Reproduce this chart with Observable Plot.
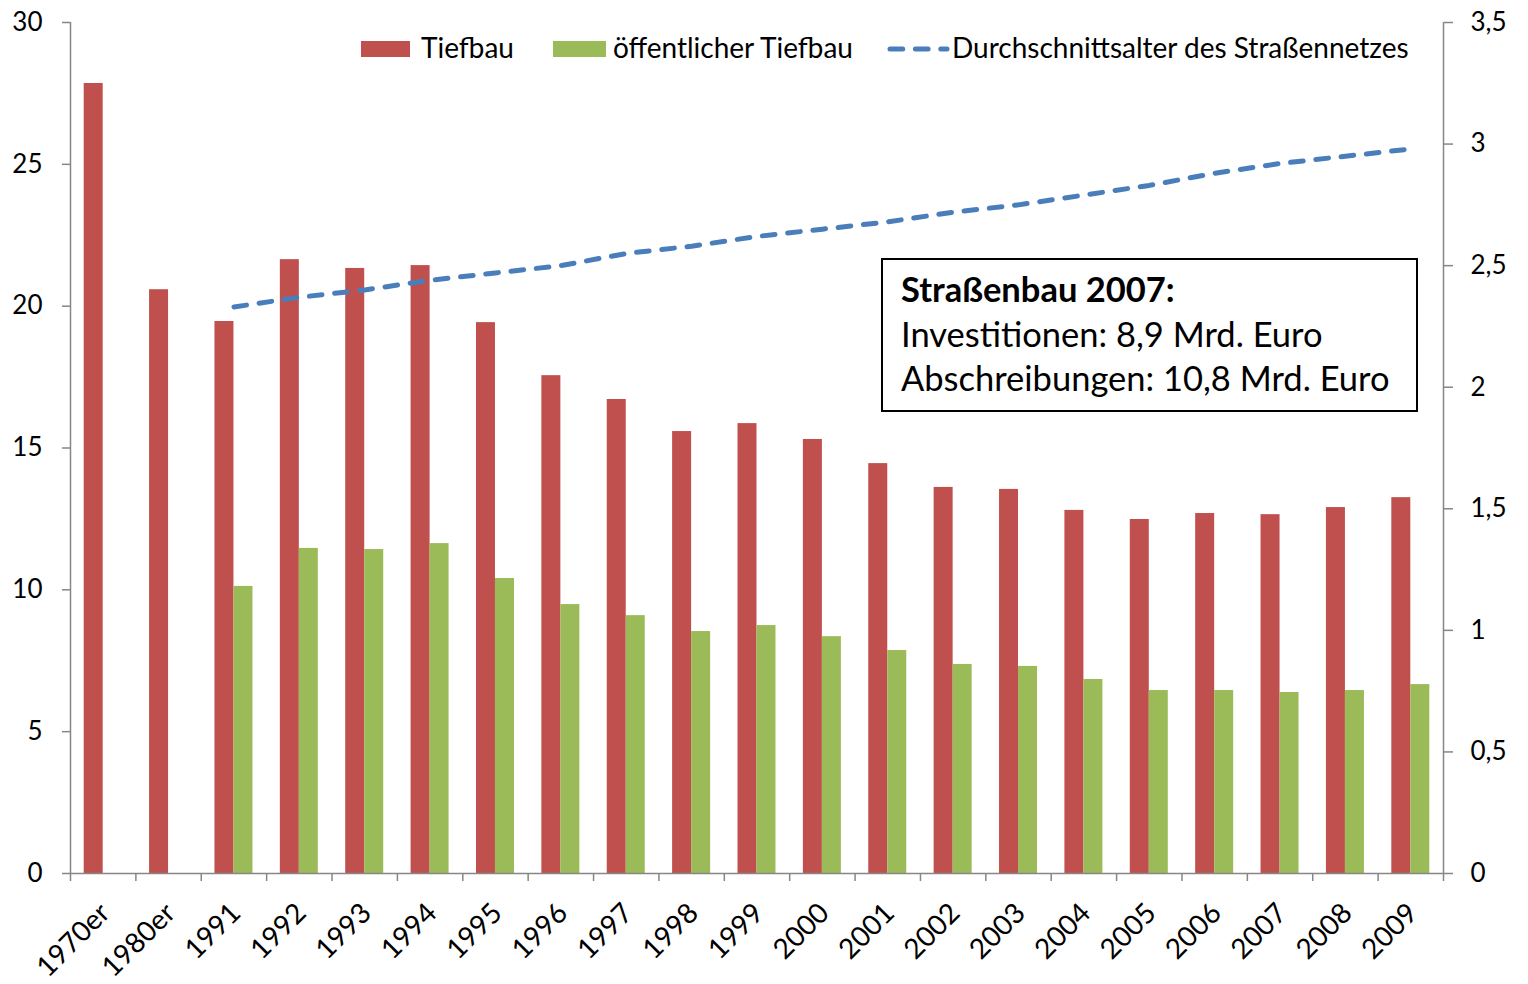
<!DOCTYPE html>
<html>
<head>
<meta charset="utf-8">
<script src="https://cdn.jsdelivr.net/npm/d3@7"></script>
<script src="https://cdn.jsdelivr.net/npm/@observablehq/plot@0.6"></script>
<style>
  html, body { margin: 0; padding: 0; background: #fff; }
  #wrap { position: relative; width: 1528px; height: 984px; font-family: Lato, "Open Sans", sans-serif; color: #000; }
  .lg { position: absolute; font-size: 28px; line-height: 28px; white-space: nowrap; }
  .sw { position: absolute; height: 16px; }
  #note { position: absolute; left: 881px; top: 258px; width: 533px; height: 150px; border: 2px solid #000; box-sizing: content-box; }
  #note div { position: absolute; left: 18px; font-size: 34.5px; line-height: normal; white-space: nowrap; }
</style>
</head>
<body>
<div id="wrap"></div>
<script>
// ---- data ----
const categories = ["1970er","1980er","1991","1992","1993","1994","1995","1996","1997","1998","1999","2000","2001","2002","2003","2004","2005","2006","2007","2008","2009"];
const tiefbau = [27.85,20.58,19.46,21.64,21.33,21.43,19.42,17.55,16.71,15.58,15.86,15.30,14.45,13.61,13.54,12.80,12.48,12.69,12.65,12.90,13.25];
const oeffentlicherTiefbau = [null,null,10.12,11.46,11.42,11.63,10.40,9.48,9.09,8.53,8.74,8.35,7.86,7.37,7.30,6.84,6.45,6.45,6.38,6.45,6.66];
const durchschnittsalter = [null,null,2.33,2.37,2.40,2.44,2.47,2.50,2.55,2.58,2.62,2.65,2.68,2.72,2.75,2.79,2.83,2.88,2.92,2.95,2.98];
const leftTicks = [0,5,10,15,20,25,30];
const rightTicks = [0,0.5,1,1.5,2,2.5,3,3.5];
const legendLabels = ["Tiefbau","öffentlicher Tiefbau","Durchschnittsalter des Straßennetzes"];
const noteLines = ["Straßenbau 2007:","Investitionen: 8,9 Mrd. Euro","Abschreibungen: 10,8 Mrd. Euro"];

// ---- layout ----
const W = 1528, H = 984, ML = 70, MR = 85, MT = 22, MB = 111;
const step = (W - ML - MR) / categories.length;
const groupW = 38;
const pIn = 1 - groupW / step;
const k = 30 / 3.5; // right axis -> left axis
const RED = "#C0504D", GREEN = "#9BBB59", BLUE = "#4A7EBB", AXIS = "#868686";
const fmt = v => String(Math.round(v * 10) / 10).replace(".", ",");

const rows = categories.map((c, i) => ({cat: c, t: tiefbau[i], o: oeffentlicherTiefbau[i], a: durchschnittsalter[i]}));
const last = categories[categories.length - 1];

const chart = Plot.plot({
  width: W, height: H,
  marginLeft: ML, marginRight: MR, marginTop: MT, marginBottom: MB,
  style: {fontFamily: "Lato, 'Open Sans', sans-serif", fontSize: "26px", color: "#000", background: "#fff", overflow: "visible"},
  x: {domain: categories, paddingInner: pIn, paddingOuter: pIn / 2, round: false, label: null},
  y: {domain: [0, 30], label: null},
  marks: [
    Plot.barY(rows.filter(d => d.t != null), {x: "cat", y: "t", fill: RED, insetRight: groupW / 2}),
    Plot.barY(rows.filter(d => d.o != null), {x: "cat", y: "o", fill: GREEN, insetLeft: groupW / 2}),
    Plot.lineY(rows.filter(d => d.a != null), {x: "cat", y: d => d.a * k, stroke: BLUE, strokeWidth: 5, strokeDasharray: "12.7,12.7", strokeLinecap: "round"}),
    // axis lines
    Plot.ruleY([0], {stroke: AXIS, strokeWidth: 1.5}),
    Plot.ruleX([categories[0]], {x: d => d, dx: -step / 2, y1: 0, y2: 30, stroke: AXIS, strokeWidth: 1.5}),
    Plot.ruleX([last], {x: d => d, dx: step / 2, y1: 0, y2: 30, stroke: AXIS, strokeWidth: 1.5}),
    // left axis
    Plot.axisY({ticks: leftTicks, tickSize: 8, tickPadding: 20, tickFormat: d => String(d), stroke: AXIS, strokeWidth: 1.5, fill: "#000", label: null}),
    // right axis
    Plot.axisY({anchor: "right", ticks: rightTicks.map(v => v * k), tickSize: 9, tickPadding: 18, tickFormat: d => fmt(d / k), stroke: AXIS, strokeWidth: 1.5, fill: "#000", label: null}),
    // x boundary ticks
    Plot.axisX({ticks: categories, tickSize: 8, dx: -step / 2, tickFormat: () => "", stroke: AXIS, strokeWidth: 1.5, label: null}),
    Plot.axisX({ticks: [last], tickSize: 8, dx: step / 2, tickFormat: () => "", stroke: AXIS, strokeWidth: 1.5, label: null}),
    // x labels
    Plot.axisX({ticks: categories, tickSize: 0, tickRotate: -45, tickPadding: 35, dx: 2, fontSize: 28, fill: "#000", label: null})
  ]
});

const wrap = document.getElementById("wrap");
wrap.appendChild(chart);

// legend
const legendItems = [
  {label: legendLabels[0], kind: "swatch", color: RED, sx: 361, sw: 49, tx: 421},
  {label: legendLabels[1], kind: "swatch", color: GREEN, sx: 553, sw: 53, tx: 613},
  {label: legendLabels[2], kind: "line", color: BLUE, sx: 889, sw: 60, tx: 952}
];
for (const it of legendItems) {
  if (it.kind === "swatch") {
    const s = document.createElement("div");
    s.className = "sw";
    s.style.left = it.sx + "px"; s.style.top = "41px"; s.style.width = it.sw + "px"; s.style.background = it.color;
    wrap.appendChild(s);
  } else {
    const svg = d3.create("svg").attr("width", it.sw + 4).attr("height", 12)
      .style("position", "absolute").style("left", (it.sx - 2) + "px").style("top", "43px");
    svg.append("line").attr("x1", 3).attr("x2", it.sw).attr("y1", 6).attr("y2", 6)
      .attr("stroke", it.color).attr("stroke-width", 5).attr("stroke-linecap", "round").attr("stroke-dasharray", "12.7,12.7");
    wrap.appendChild(svg.node());
  }
  const t = document.createElement("div");
  t.className = "lg";
  t.textContent = it.label;
  t.style.left = it.tx + "px"; t.style.top = "33px";
  wrap.appendChild(t);
}

// annotation box
const note = document.createElement("div");
note.id = "note";
noteLines.forEach((line, i) => {
  const d = document.createElement("div");
  d.textContent = line;
  d.style.top = (8 + i * 44.5) + "px";
  if (i === 0) d.style.fontWeight = "bold";
  note.appendChild(d);
});
wrap.appendChild(note);
</script>
</body>
</html>
